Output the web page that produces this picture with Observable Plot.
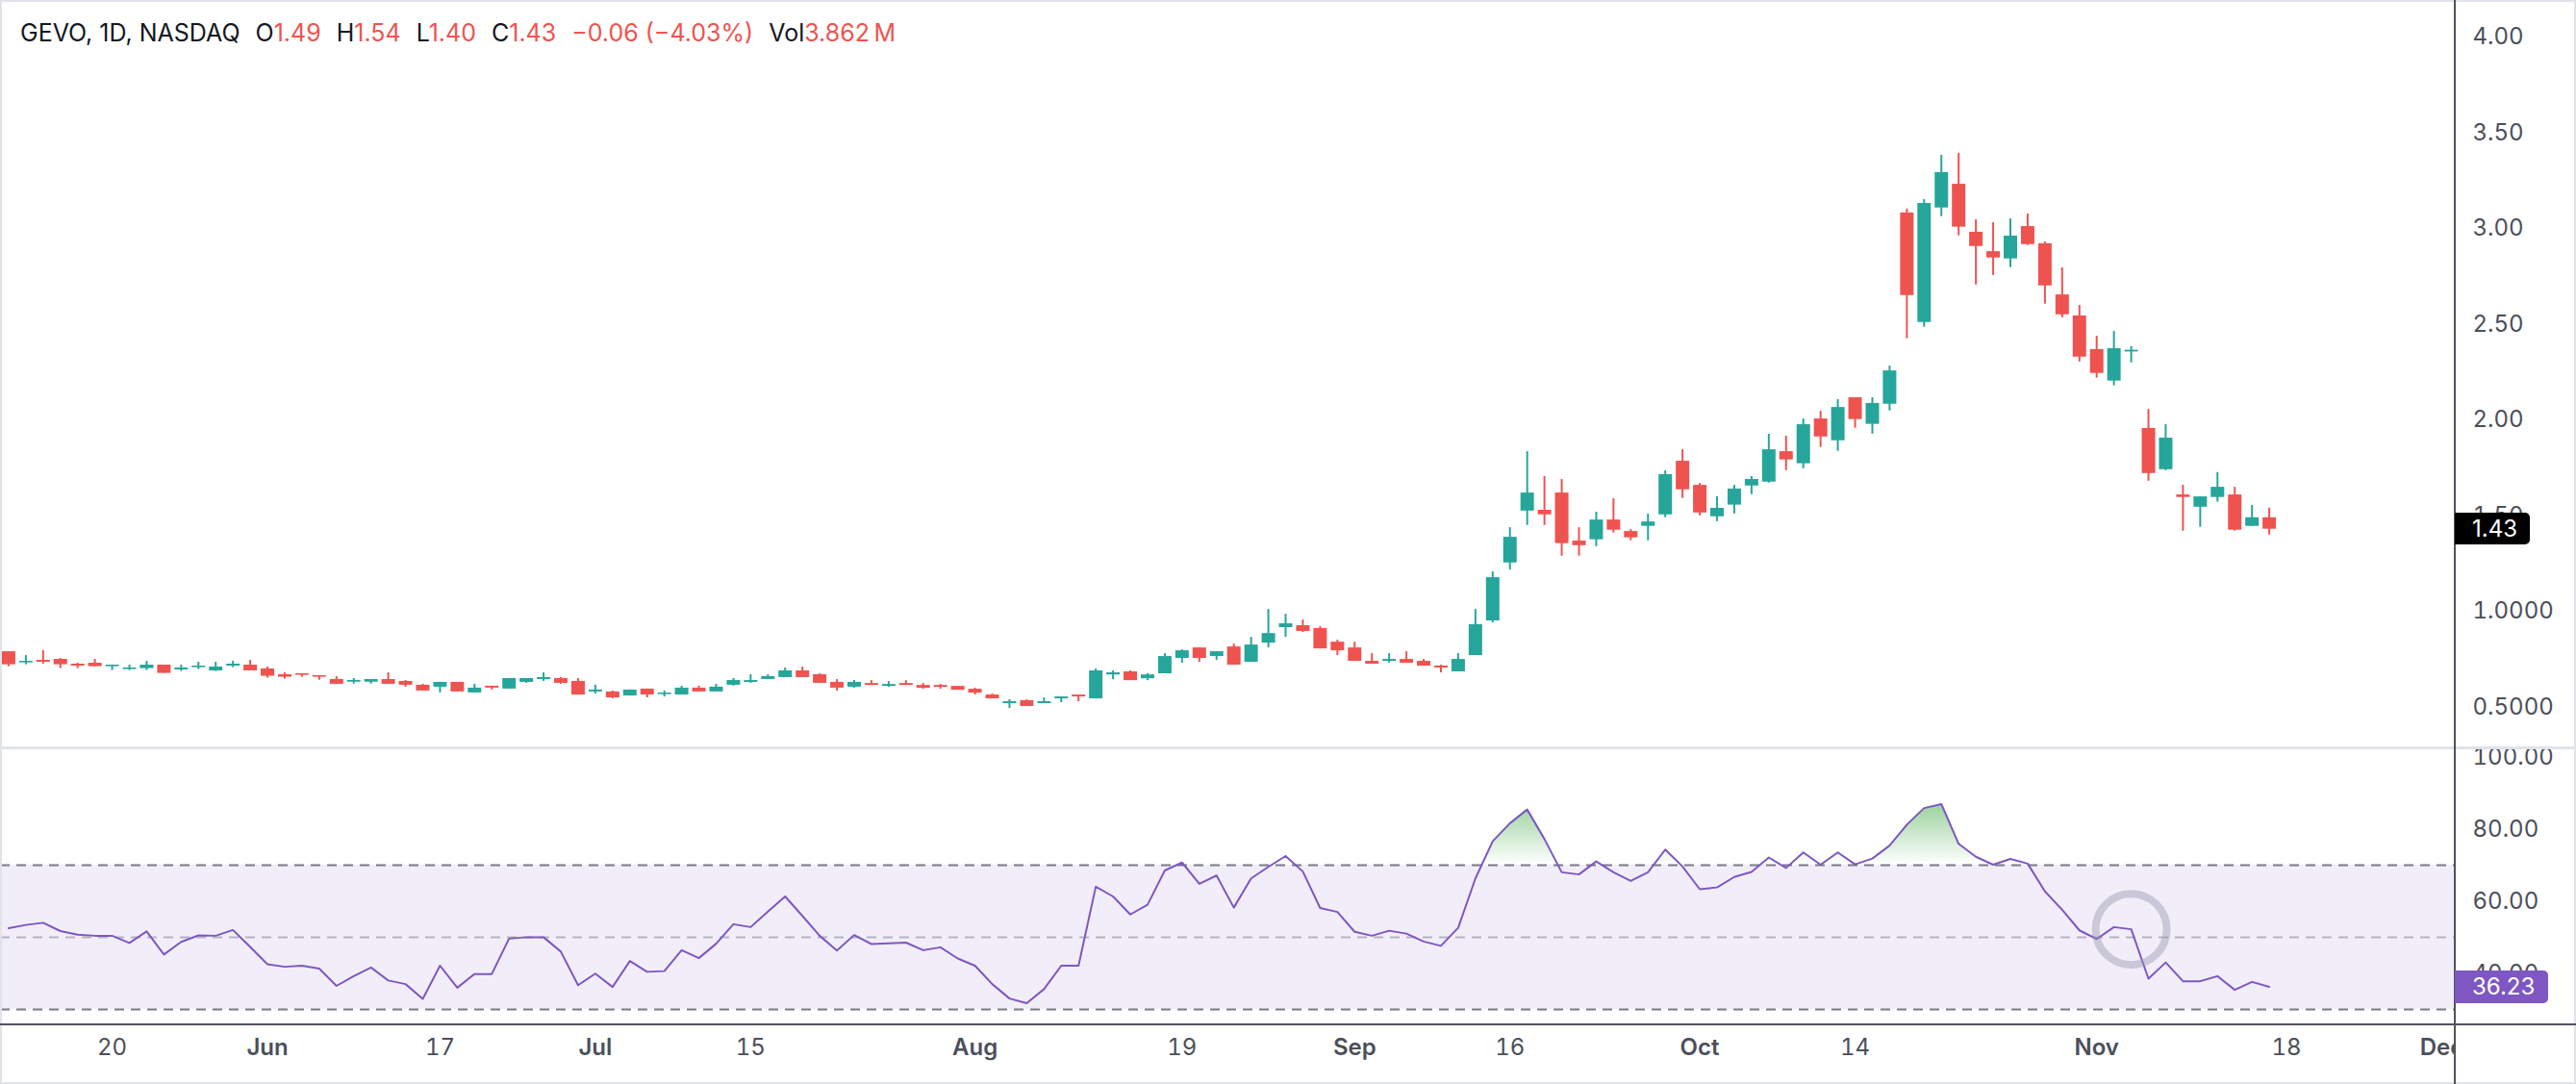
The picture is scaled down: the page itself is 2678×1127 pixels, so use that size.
<!DOCTYPE html>
<html>
<head>
<meta charset="utf-8">
<script src="https://cdn.jsdelivr.net/npm/d3@7"></script>
<script src="https://cdn.jsdelivr.net/npm/@observablehq/plot@0.6"></script>
<style>
  html, body { margin: 0; padding: 0; background: #fff; }
  #wrap { position: relative; width: 2678px; height: 1127px; overflow: hidden; font-family: Inter, Roboto, sans-serif; background: #fff; }
  #price, #rsi { position: absolute; left: 0; }
  #price { top: 0; }
  #rsi { top: 777px; }
  .abs { position: absolute; }
  #legend { position: absolute; left: 21px; top: 19px; font-size: 25px; line-height: 30px; white-space: nowrap; color: #131722; }
  #legend .g { margin-left: 16px; }
  #legend .v { color: #ef5350; }
  .tag { position: absolute; left: 2552px; color: #fff; font-size: 24px; box-sizing: border-box; padding-left: 18px; border-radius: 0 5px 5px 0; display: flex; align-items: center; }
</style>
</head>
<body>
<div id="wrap">
  <div id="price"></div>
  <div id="rsi"></div>
  <div id="legend"></div>
</div>
<script>
// ---------------- data ----------------
const symbolTitle = "GEVO, 1D, NASDAQ";
const volumeText = "3.862\u2009M";
const firstSession = "2024-05-10";
const lastCalendarDay = "2024-12-31";
const holidays = ["2024-05-27", "2024-06-19", "2024-07-04", "2024-09-02", "2024-11-28"];

const open = [
  0.79, 0.732, 0.745, 0.75, 0.725, 0.73, 0.712, 0.697, 0.702, 0.72,
  0.695, 0.707, 0.69, 0.715, 0.72, 0.70, 0.67, 0.675, 0.665, 0.645,
  0.631, 0.631, 0.645, 0.635, 0.615, 0.605, 0.63, 0.575, 0.61, 0.595,
  0.63, 0.645, 0.65, 0.635, 0.58, 0.58, 0.559, 0.595, 0.566, 0.564,
  0.60, 0.58, 0.615, 0.63, 0.645, 0.655, 0.69, 0.67, 0.63, 0.605,
  0.624, 0.609, 0.624, 0.614, 0.614, 0.609, 0.594, 0.564, 0.519, 0.534,
  0.519, 0.544, 0.564, 0.544, 0.669, 0.685, 0.649, 0.675, 0.755, 0.81,
  0.765, 0.815, 0.735, 0.835, 0.916, 0.926, 0.911, 0.84, 0.81, 0.74,
  0.74, 0.75, 0.74, 0.715, 0.685, 0.77, 0.951, 1.254, 1.525, 1.529,
  1.619, 1.368, 1.375, 1.478, 1.418, 1.445, 1.505, 1.785, 1.659, 1.495,
  1.556, 1.656, 1.676, 1.835, 1.772, 2.006, 1.892, 2.117, 1.978, 2.083,
  3.081, 2.51, 3.108, 3.232, 2.981, 2.88, 2.842, 3.011, 2.921, 2.654,
  2.544, 2.368, 2.204, 2.356, 1.956, 1.741, 1.609, 1.545, 1.596, 1.609,
  1.445, 1.49
];
const high = [
  0.79, 0.77, 0.796, 0.755, 0.73, 0.75, 0.72, 0.72, 0.74, 0.72,
  0.72, 0.735, 0.735, 0.74, 0.745, 0.71, 0.68, 0.675, 0.665, 0.66,
  0.65, 0.645, 0.68, 0.64, 0.62, 0.63, 0.63, 0.62, 0.61, 0.65,
  0.65, 0.68, 0.655, 0.65, 0.615, 0.585, 0.59, 0.595, 0.585, 0.61,
  0.61, 0.62, 0.65, 0.67, 0.67, 0.705, 0.71, 0.675, 0.645, 0.64,
  0.639, 0.634, 0.639, 0.624, 0.619, 0.609, 0.599, 0.569, 0.539, 0.539,
  0.549, 0.554, 0.564, 0.70, 0.69, 0.69, 0.675, 0.78, 0.80, 0.81,
  0.79, 0.83, 0.865, 1.011, 0.986, 0.956, 0.921, 0.85, 0.84, 0.78,
  0.78, 0.79, 0.75, 0.72, 0.78, 1.011, 1.207, 1.438, 1.835, 1.705,
  1.69, 1.438, 1.519, 1.589, 1.428, 1.509, 1.735, 1.845, 1.669, 1.599,
  1.659, 1.705, 1.926, 1.916, 2.006, 2.046, 2.107, 2.117, 2.117, 2.282,
  3.102, 3.152, 3.383, 3.393, 3.046, 3.031, 3.051, 3.076, 2.931, 2.795,
  2.599, 2.438, 2.463, 2.383, 2.056, 1.976, 1.659, 1.599, 1.725, 1.649,
  1.554, 1.54
];
const low = [
  0.712, 0.722, 0.725, 0.702, 0.702, 0.712, 0.692, 0.692, 0.692, 0.677,
  0.687, 0.697, 0.687, 0.707, 0.69, 0.652, 0.647, 0.657, 0.641, 0.62,
  0.621, 0.621, 0.62, 0.605, 0.585, 0.575, 0.58, 0.575, 0.59, 0.595,
  0.625, 0.635, 0.62, 0.564, 0.57, 0.544, 0.559, 0.549, 0.554, 0.564,
  0.58, 0.58, 0.61, 0.625, 0.645, 0.655, 0.655, 0.625, 0.585, 0.60,
  0.614, 0.604, 0.614, 0.594, 0.594, 0.589, 0.564, 0.544, 0.494, 0.504,
  0.519, 0.524, 0.529, 0.544, 0.644, 0.639, 0.639, 0.675, 0.73, 0.735,
  0.745, 0.72, 0.735, 0.81, 0.865, 0.891, 0.805, 0.77, 0.74, 0.725,
  0.73, 0.73, 0.715, 0.68, 0.685, 0.77, 0.941, 1.217, 1.45, 1.45,
  1.289, 1.289, 1.339, 1.41, 1.37, 1.37, 1.49, 1.591, 1.50, 1.47,
  1.51, 1.611, 1.671, 1.736, 1.746, 1.857, 1.837, 1.958, 1.927, 2.048,
  2.425, 2.485, 3.063, 2.963, 2.706, 2.756, 2.797, 2.912, 2.606, 2.535,
  2.304, 2.219, 2.179, 2.299, 1.681, 1.736, 1.42, 1.44, 1.571, 1.42,
  1.445, 1.40
];
const close = [
  0.722, 0.74, 0.735, 0.722, 0.715, 0.712, 0.72, 0.705, 0.72, 0.677,
  0.705, 0.715, 0.71, 0.725, 0.69, 0.662, 0.657, 0.667, 0.657, 0.62,
  0.64, 0.645, 0.62, 0.615, 0.585, 0.63, 0.58, 0.60, 0.60, 0.65,
  0.65, 0.655, 0.625, 0.564, 0.59, 0.549, 0.59, 0.564, 0.574, 0.60,
  0.58, 0.605, 0.64, 0.64, 0.66, 0.69, 0.655, 0.625, 0.60, 0.63,
  0.614, 0.619, 0.614, 0.599, 0.604, 0.589, 0.574, 0.544, 0.529, 0.504,
  0.529, 0.554, 0.554, 0.69, 0.68, 0.639, 0.669, 0.765, 0.795, 0.755,
  0.79, 0.72, 0.825, 0.885, 0.936, 0.896, 0.805, 0.795, 0.74, 0.725,
  0.75, 0.73, 0.715, 0.705, 0.75, 0.931, 1.177, 1.388, 1.619, 1.505,
  1.355, 1.344, 1.478, 1.425, 1.385, 1.468, 1.715, 1.636, 1.515, 1.539,
  1.64, 1.69, 1.845, 1.792, 1.976, 1.912, 2.066, 2.003, 2.087, 2.257,
  2.651, 3.132, 3.293, 3.008, 2.907, 2.847, 2.961, 2.917, 2.701, 2.55,
  2.329, 2.244, 2.373, 2.365, 1.721, 1.906, 1.596, 1.599, 1.649, 1.425,
  1.49, 1.43
];
const rsi = [
  52.5, 53.4, 54.0, 51.7, 50.7, 50.4, 50.4, 48.4, 51.6, 45.2,
  48.7, 50.5, 50.4, 52.0, 47.3, 42.5, 41.8, 42.1, 41.3, 36.5,
  39.2, 41.6, 38.0, 37.0, 32.9, 42.1, 36.0, 39.8, 39.8, 49.6,
  50.0, 50.0, 46.0, 36.7, 39.9, 36.2, 43.4, 40.4, 40.6, 46.4,
  44.2, 48.2, 53.6, 52.8, 57.1, 61.3, 55.9, 50.4, 46.3, 50.6,
  48.1, 48.3, 48.5, 46.4, 47.2, 44.1, 42.1, 37.0, 33.0, 31.7,
  35.6, 42.1, 42.1, 64.0, 61.3, 56.3, 59.0, 68.5, 70.7, 64.8,
  67.1, 58.2, 66.3, 69.5, 72.5, 68.2, 58.1, 57.0, 51.5, 50.4,
  51.8, 51.0, 48.8, 47.6, 52.6, 66.3, 76.6, 81.6, 85.4, 77.2,
  68.0, 67.4, 71.0, 68.0, 65.6, 68.0, 74.3, 69.6, 63.3, 63.8,
  66.7, 68.1, 72.1, 69.2, 73.5, 70.1, 73.5, 70.2, 71.8, 75.4,
  81.2, 85.8, 86.9, 75.9, 72.3, 70.1, 71.7, 70.4, 62.7, 57.6,
  51.9, 49.5, 52.8, 52.2, 38.5, 43.0, 37.8, 37.8, 39.2, 35.4,
  37.6, 36.23
];

const priceTicks = [0.5, 1, 1.5, 2, 2.5, 3, 3.5, 4];
const priceTickLabels = ["0.5000", "1.0000", "1.50", "2.00", "2.50", "3.00", "3.50", "4.00"];
const rsiTicks = [40, 60, 80, 100];
const rsiTickLabels = ["40.00", "60.00", "80.00", "100.00"];
const rsiBandLevels = [30, 70];
const rsiMidLevel = [50];
const dayTickDates = ["2024-05-20", "2024-06-17", "2024-07-15", "2024-08-19", "2024-09-16", "2024-10-14", "2024-11-18"];
const dayTickLabels = ["20", "17", "15", "19", "16", "14", "18"];
const monthTickDates = ["2024-06-03", "2024-07-01", "2024-08-01", "2024-09-03", "2024-10-01", "2024-11-01", "2024-12-02"];
const monthTickLabels = ["Jun", "Jul", "Aug", "Sep", "Oct", "Nov", "Dec"];
const markedSessions = ["2024-11-05"];

// ---------------- build ----------------
const UP = "#26a69a", DOWN = "#ef5350", RSI_COLOR = "#7e57c2";
const AXIS_TEXT = "#4c4f5a";
const FONT = "Inter, Roboto, sans-serif";

function tradingSessions(start, end) {
  const out = [];
  const d = new Date(start + "T00:00:00Z");
  const e = new Date(end + "T00:00:00Z");
  while (d <= e) {
    const iso = d.toISOString().slice(0, 10);
    const wd = d.getUTCDay();
    if (wd !== 0 && wd !== 6 && !holidays.includes(iso)) out.push(iso);
    d.setUTCDate(d.getUTCDate() + 1);
  }
  return out;
}
const sessions = tradingSessions(firstSession, lastCalendarDay);

const candles = open.map((o, k) => ({
  k, date: sessions[k], open: o, high: high[k], low: low[k], close: close[k],
  tone: close[k] >= o ? UP : DOWN
}));
const rsiData = rsi.map((v, k) => ({ k, date: sessions[k], v }));
const marked = markedSessions.map(d => rsiData[sessions.indexOf(d)]);

const xDomain = [-0.47, 141.78];
const priceDomain = [0.288, 4.192];
const rsiDomain = [25.7, 102.5];

const dayIdx = dayTickDates.map(d => sessions.indexOf(d));
const monthIdx = monthTickDates.map(d => sessions.indexOf(d));

const priceChart = Plot.plot({
  width: 2678, height: 777,
  marginLeft: 0, marginRight: 126, marginTop: 0, marginBottom: 0,
  style: { fontFamily: FONT, background: "white" },
  x: { domain: xDomain, axis: null },
  y: { domain: priceDomain, axis: null },
  marks: [
    Plot.axisY(priceTicks, {
      anchor: "right", tickSize: 0, tickPadding: 18, fontSize: 24, fill: AXIS_TEXT,
      tickFormat: d => priceTickLabels[priceTicks.indexOf(d)], label: null
    }),
    Plot.ruleX(candles, { x: "k", y1: "low", y2: "high", stroke: "tone", strokeWidth: 2 }),
    Plot.ruleX(candles, { x: "k", y1: "open", y2: "close", stroke: "tone", strokeWidth: 14 })
  ]
});
document.getElementById("price").appendChild(priceChart);

const rsiChart = Plot.plot({
  width: 2678, height: 350,
  marginLeft: 0, marginRight: 126, marginTop: 0, marginBottom: 62,
  style: { fontFamily: FONT, background: "white" },
  x: { domain: xDomain, axis: null },
  y: { domain: rsiDomain, axis: null },
  marks: [
    Plot.rect([rsiBandLevels], { y1: d => d[0], y2: d => d[1], fill: RSI_COLOR, fillOpacity: 0.1 }),
    Plot.areaY(rsiData, { x: "k", y1: () => rsiBandLevels[1], y2: "v", fill: "url(#obGrad)" }),
    Plot.ruleY(rsiBandLevels, { stroke: "#787b86", strokeWidth: 2, strokeDasharray: "10,7" }),
    Plot.ruleY(rsiMidLevel, { stroke: "#787b86", strokeOpacity: 0.5, strokeWidth: 2, strokeDasharray: "10,7" }),
    Plot.line(rsiData, { x: "k", y: "v", stroke: RSI_COLOR, strokeWidth: 2 }),
    Plot.dot(marked, { x: "k", y: "v", r: 37, stroke: "#9a98b0", strokeOpacity: 0.45, strokeWidth: 8, fill: "none" }),
    Plot.axisY(rsiTicks, {
      anchor: "right", tickSize: 0, tickPadding: 18, fontSize: 24, fill: AXIS_TEXT,
      tickFormat: d => rsiTickLabels[rsiTicks.indexOf(d)], label: null
    }),
    Plot.axisX(dayIdx, {
      anchor: "bottom", tickSize: 0, tickPadding: 14, fontSize: 24, fill: AXIS_TEXT,
      tickFormat: d => dayTickLabels[dayIdx.indexOf(d)], label: null
    }),
    Plot.axisX(monthIdx, {
      anchor: "bottom", tickSize: 0, tickPadding: 14, fontSize: 24, fontWeight: 600, fill: AXIS_TEXT,
      tickFormat: d => monthTickLabels[monthIdx.indexOf(d)], label: null
    })
  ]
});
// overbought gradient (100 -> 70)
{
  const ys = rsiChart.scale("y");
  const defs = d3.select(rsiChart).insert("defs", ":first-child");
  const g = defs.append("linearGradient").attr("id", "obGrad")
    .attr("gradientUnits", "userSpaceOnUse")
    .attr("x1", 0).attr("x2", 0)
    .attr("y1", ys.apply(100)).attr("y2", ys.apply(rsiBandLevels[1]));
  g.append("stop").attr("offset", 0).attr("stop-color", "#4caf50").attr("stop-opacity", 1);
  g.append("stop").attr("offset", 1).attr("stop-color", "#4caf50").attr("stop-opacity", 0);
}
document.getElementById("rsi").appendChild(rsiChart);

// ---------------- chrome ----------------
const wrap = document.getElementById("wrap");
function box(css) { const d = document.createElement("div"); d.className = "abs"; Object.assign(d.style, css); wrap.appendChild(d); return d; }
// mask for clipped time-axis label in price-scale column
box({ left: "2553px", top: "1066px", width: "125px", height: "61px", background: "#fff" });
// outer light borders
box({ left: "0px", top: "0px", width: "2678px", height: "2px", background: "#e0e3eb" });
box({ left: "0px", top: "0px", width: "2px", height: "1127px", background: "#e0e3eb" });
box({ left: "2676px", top: "0px", width: "2px", height: "1127px", background: "#e0e3eb" });
box({ left: "0px", top: "1125px", width: "2678px", height: "2px", background: "#e0e3eb" });
// pane separator
box({ left: "0px", top: "776px", width: "2678px", height: "3px", background: "#e0e3eb" });
// time axis line
box({ left: "0px", top: "1064px", width: "2678px", height: "2px", background: "#50535e" });
// price scale separator
box({ left: "2551px", top: "0px", width: "2px", height: "1127px", background: "#50535e" });

// last value tags
const lastC = close[close.length - 1];
const lastR = rsi[rsi.length - 1];
const py = priceChart.scale("y").apply(lastC);
const t1 = box({}); t1.className = "tag";
Object.assign(t1.style, { top: (py - 16.5) + "px", width: "78px", height: "33px", background: "#000" });
t1.textContent = lastC.toFixed(2);
const ry = 777 + rsiChart.scale("y").apply(lastR);
const t2 = box({}); t2.className = "tag";
Object.assign(t2.style, { top: (ry - 17) + "px", width: "97px", height: "34px", background: RSI_COLOR });
t2.textContent = lastR.toFixed(2);

// legend
{
  const n = close.length - 1;
  const chg = close[n] - close[n - 1];
  const pct = chg / close[n - 1] * 100;
  const fmt = v => (v < 0 ? "\u2212" : "+") + Math.abs(v).toFixed(2);
  const parts = [["O", open[n]], ["H", high[n]], ["L", low[n]], ["C", close[n]]];
  let html = `<span>${symbolTitle}</span>`;
  for (const [lab, v] of parts) html += `<span class="g">${lab}<span class="v">${v.toFixed(2)}</span></span>`;
  html += `<span class="g v">${fmt(chg)} (${fmt(pct)}%)</span>`;
  html += `<span class="g">Vol<span class="v">${volumeText}</span></span>`;
  document.getElementById("legend").innerHTML = html;
  wrap.appendChild(document.getElementById("legend"));
}
</script>
</body>
</html>
